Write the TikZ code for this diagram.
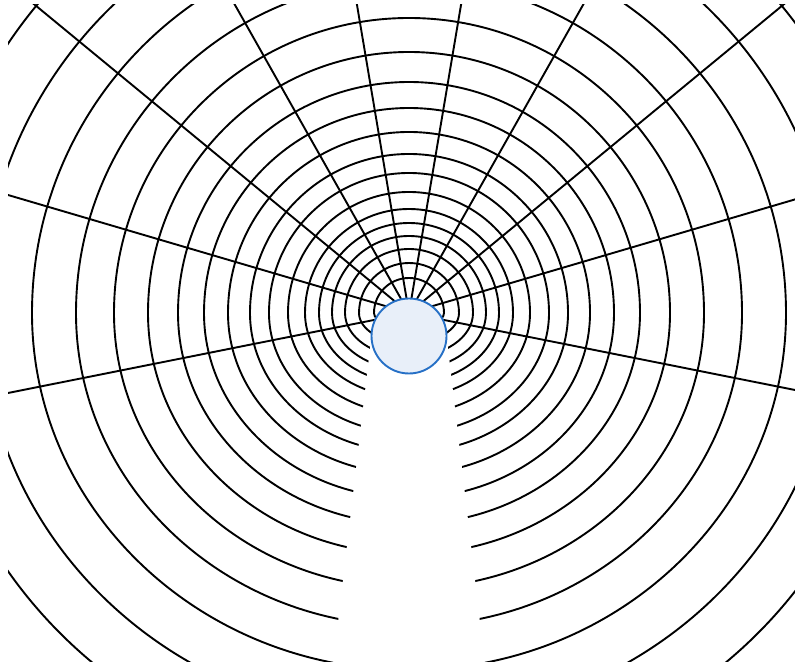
\documentclass[tikz,border=0pt]{standalone}
\definecolor{diskfill}{RGB}{232,239,249}
\definecolor{diskline}{RGB}{38,112,198}
\begin{document}
\begin{tikzpicture}[x=1pt,y=1pt,
  gridline/.style={line width=1.9pt, black},
  rayline/.style={line width=1.9pt, black},
  disk/.style={circle, inner sep=0pt, minimum size=75pt, fill=diskfill, draw=diskline, line width=1.9pt}]
\useasboundingbox (0,0) rectangle (795,666);
\coordinate (P) at (409,353);
\begin{scope}
\clip (8,4) rectangle (795,661);
\foreach \R in {35,50,64,77,90,104,121,140,159,181,205,231,261,295,333,377,427,483}{
  \pgfmathsetmacro{\B}{\R-20}
  \draw[gridline] ({409-\R},353) arc[start angle=180,end angle=0,radius=\R]
     arc[start angle=0,end angle=-180,x radius=\R,y radius=\B];
}
\fill[white] (371.6,331) -- (328.2,-40) -- (489.8,-40) -- (446.4,331) -- cycle;
\coordinate (rA) at (-393,193);
\coordinate (rB) at (-393,589);
\coordinate (rC) at (-339,969);
\coordinate (rD) at (61,969);
\coordinate (rE) at (305,969);
\coordinate (rF) at (513,969);
\coordinate (rG) at (757,969);
\coordinate (rH) at (1157,969);
\coordinate (rI) at (1211,589);
\coordinate (rJ) at (1211,193);
\foreach \e in {rA,rB,rC,rD,rE,rF,rG,rH,rI,rJ}{
  \draw[rayline] (P) -- (\e);
}
\end{scope}
\node[disk] (body) at (409,330) {};
\end{tikzpicture}
\end{document}
